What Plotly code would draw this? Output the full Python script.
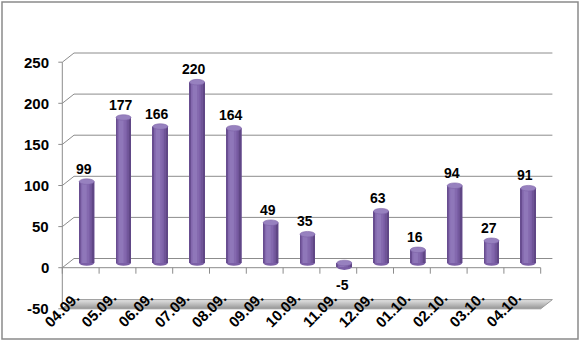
import plotly.graph_objects as go

# ---- data -----------------------------------------------------------------
categories = ['04.09.', '05.09.', '06.09.', '07.09.', '08.09.', '09.09.', '10.09.',
              '11.09.', '12.09.', '01.10.', '02.10.', '03.10.', '04.10.']
values = [99, 177, 166, 220, 164, 49, 35, -5, 63, 16, 94, 27, 91]
y_ticks = [-50, 0, 50, 100, 150, 200, 250]
y_tick_labels = ['-50', '0', '50', '100', '150', '200', '250']

# ---- geometry of the pseudo-3D frame ---------------------------------------
W, H = 581, 341
X_ORIGIN, X_STEP = 86.7, 36.8     # pixel of first column centre, pixels per category
Y_ORIGIN, Y_STEP = 263.0, 0.822   # pixel of value 0 on the column plane, pixels per unit


def dx(px):
    return px / X_STEP


def dy(px):
    return px / Y_STEP


# offsets of the front and back planes relative to the column plane (data units)
FRONT = (dx(-6.0), dy(-4.7))
BACK = (dx(5.7), dy(4.5))

n = len(categories)
idx = list(range(n))
left, right = -0.5, n - 0.5
ymin, ymax = y_ticks[0], y_ticks[-1]

BAR_W = dx(15)
CAP_H = dy(2.8)

FONT = "Arial, Liberation Sans, sans-serif"
GRID = '#8c8c8c'
BAR = '#7b5fa6'

fig = go.Figure()

# floor slab at the bottom of the value range
fx, fy = FRONT
bx, by = BACK
fig.add_trace(go.Scatter(
    x=[left + fx, right + fx, right + bx, left + bx, left + fx],
    y=[ymin + fy, ymin + fy, ymin + by, ymin + by, ymin + fy],
    mode='lines', fill='toself',
    fillgradient=dict(type='vertical',
                      colorscale=[[0, '#959595'], [0.5, '#bdbdbd'], [1, '#e4e4e4']]),
    line=dict(color='#9a9a9a', width=1),
    hoverinfo='skip', showlegend=False,
))

# cylinders: base column plus vertical shading strips
shades = [
    (-0.5, 1.0, BAR),
    (-0.5, 0.07, '#684d90'),
    (-0.40, 0.55, '#8469ae'),
    (-0.30, 0.30, '#8f77b9'),
    (0.25, 0.25, '#6f5497'),
    (0.40, 0.10, '#604786'),
]
for off, w, col in shades:
    fig.add_trace(go.Bar(
        x=idx, y=values, width=w * BAR_W, offset=off * BAR_W,
        marker=dict(color=col, line=dict(width=0)),
        hoverinfo='skip', showlegend=False,
    ))

shapes = []
line_style = dict(color=GRID, width=1)

# back wall gridlines and side-wall diagonals
for v in y_ticks:
    if v != ymin:
        shapes.append(dict(type='line', xref='x', yref='y', layer='below',
                           x0=left + bx, x1=right + bx, y0=v + by, y1=v + by,
                           line=line_style))
    shapes.append(dict(type='line', xref='x', yref='y', layer='below',
                       x0=left + fx, x1=left + bx, y0=v + fy, y1=v + by,
                       line=line_style))
    # value-axis tick
    shapes.append(dict(type='line', xref='x', yref='y', layer='below',
                       x0=left + fx - dx(4), x1=left + fx, y0=v + fy, y1=v + fy,
                       line=line_style))

# front value axis
shapes.append(dict(type='line', xref='x', yref='y', layer='below',
                   x0=left + fx, x1=left + fx, y0=ymin + fy, y1=ymax + fy,
                   line=line_style))

# front category axis at zero with boundary ticks
shapes.append(dict(type='line', xref='x', yref='y', layer='below',
                   x0=left + fx, x1=right + fx, y0=fy, y1=fy, line=line_style))
for k in range(n + 1):
    xb = k - 0.5 + fx
    shapes.append(dict(type='line', xref='x', yref='y', layer='below',
                       x0=xb, x1=xb, y0=fy, y1=fy - dy(6), line=line_style))

# cylinder ends
for i, v in zip(idx, values):
    lo, hi = min(v, 0), max(v, 0)
    shapes.append(dict(type='circle', xref='x', yref='y', layer='below',
                       x0=i - BAR_W / 2, x1=i + BAR_W / 2,
                       y0=lo - CAP_H, y1=lo + CAP_H,
                       fillcolor=BAR, line=dict(width=0)))
    shapes.append(dict(type='circle', xref='x', yref='y', layer='above',
                       x0=i - BAR_W / 2, x1=i + BAR_W / 2,
                       y0=hi - CAP_H, y1=hi + CAP_H,
                       fillcolor='#9781bf', line=dict(color='#7e63a8', width=0.6)))

# outer chart border
shapes.append(dict(type='rect', xref='paper', yref='paper',
                   x0=2 / W, x1=578 / W, y0=1 - 339 / H, y1=1 - 2 / H,
                   line=dict(color='#8a8a8a', width=1.5), fillcolor='rgba(0,0,0,0)'))

annotations = []

# value-axis labels
for v, t in zip(y_ticks, y_tick_labels):
    annotations.append(dict(x=left + fx - dx(11), y=v + fy, xref='x', yref='y',
                            text=t, showarrow=False, xanchor='right', yanchor='middle',
                            font=dict(family=FONT, size=15, color='black', weight='bold')))

# data labels
for i, v in zip(idx, values):
    if v >= 0:
        annotations.append(dict(x=i - dx(3), y=v + CAP_H, xref='x', yref='y',
                                text=str(v), showarrow=False,
                                xanchor='center', yanchor='bottom', yshift=0,
                                font=dict(family=FONT, size=14, color='black', weight='bold')))
    else:
        annotations.append(dict(x=i - dx(1.5), y=v - CAP_H, xref='x', yref='y',
                                text=str(v), showarrow=False,
                                xanchor='center', yanchor='top', yshift=-5,
                                font=dict(family=FONT, size=14, color='black', weight='bold')))

# rotated category labels
for i, c in zip(idx, categories):
    annotations.append(dict(x=i - dx(1), y=dy(Y_ORIGIN - 286), xref='x', yref='y',
                            text=c, showarrow=False, textangle=-45,
                            xanchor='right', yanchor='top',
                            font=dict(family=FONT, size=15, color='black', weight='bold')))

fig.update_layout(
    width=W, height=H, autosize=False,
    margin=dict(l=0, r=0, t=0, b=0, pad=0),
    paper_bgcolor='white', plot_bgcolor='white',
    barmode='overlay', showlegend=False,
    xaxis=dict(range=[(0 - X_ORIGIN) / X_STEP, (W - X_ORIGIN) / X_STEP],
               visible=False, fixedrange=True),
    yaxis=dict(range=[(Y_ORIGIN - H) / Y_STEP, Y_ORIGIN / Y_STEP],
               visible=False, fixedrange=True),
    shapes=shapes, annotations=annotations,
)

fig.write_html("out.html")
